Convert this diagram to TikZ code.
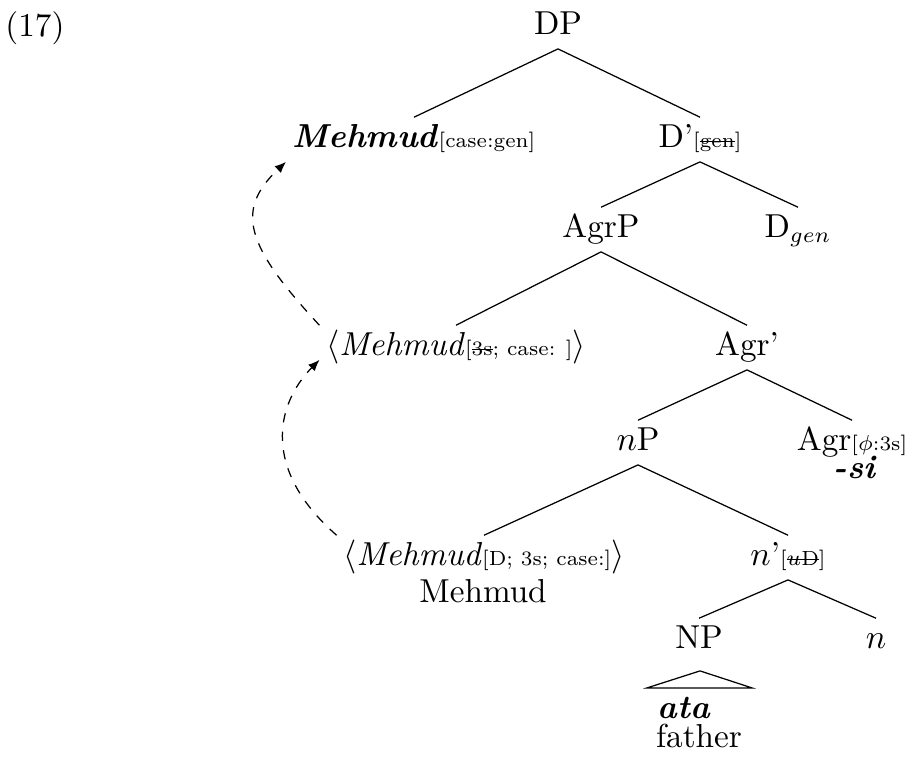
\documentclass[tikz,border=0pt]{standalone}
\usetikzlibrary{arrows.meta,calc}
\newcommand\strk[1]{{\setbox0\hbox{#1}\rlap{\rule[0.55ex]{\wd0}{0.4pt}}\box0}}
\newcommand\feat[1]{{\fontsize{6.6}{8}\selectfont #1}}
\begin{document}
\begin{tikzpicture}[x=0.3223pt,y=-0.3223pt,
  lab/.style={inner sep=2pt,text height=7.4pt,text depth=2.6pt,anchor=base,
    font=\fontsize{10.7}{13}\selectfont},
  mv/.style={dashed,-{Latex[length=3.6pt,width=3pt]}}]
\useasboundingbox (0,0) rectangle (909,758);
\node[lab] (ex) at (35,36) {(17)};
\node[lab] (dp) at (558,34) {DP};
\node[lab] (m1) at (414,147) {\textbf{\textit{Mehmud}}\feat{[case:gen]}};
\node[lab] (d1) at (700,147) {D'\feat{[\strk{gen}]}};
\node[lab] (agrp) at (601,237) {AgrP};
\node[lab] (dgen) at (798,237) {D$_{gen}$};
\node[lab] (m2) at (456,355) {$\langle$\textit{Mehmud}\feat{[\strk{3s}; case: ]}$\rangle$};
\node[lab] (agr1) at (747,355) {Agr'};
\node[lab] (np) at (638,450) {$n$P};
\node[lab] (agr) at (852,450) {Agr\feat{[$\phi$:3s]}};
\node[lab] (si) at (855,478) {\textbf{\textit{-si}}};
\node[lab] (m3) at (484,565) {$\langle$\textit{Mehmud}\feat{[D; 3s; case:]}$\rangle$};
\node[lab] (mg) at (483,602) {Mehmud};
\node[lab] (n1) at (788,565) {$n$'\feat{[\strk{$u$D}]}};
\node[lab] (NP) at (699,648) {NP};
\node[lab] (n) at (876,648) {$n$};
\node[lab] (ata) at (684,718) {\textbf{\textit{ata}}};
\node[lab] (fa) at (699,747) {father};
\draw (dp.south) -- (m1.north);
\draw (dp.south) -- (d1.north);
\draw (d1.south) -- (agrp.north);
\draw (d1.south) -- (dgen.north);
\draw (agrp.south) -- (m2.north);
\draw (agrp.south) -- (agr1.north);
\draw (agr1.south) -- (np.north);
\draw (agr1.south) -- (agr.north);
\draw (np.south) -- (m3.north);
\draw (np.south) -- (n1.north);
\draw (n1.south) -- (NP.north);
\draw (n1.south) -- (n.north);
\draw ($(NP.south)+(1,8)$) -- ($(NP.south)+(-52,25)$) -- ($(NP.south)+(53,25)$) -- cycle;
\draw[mv] (m3.north west) .. controls (262,470) and (275,405) .. ($(m2.south west)+(0,-10)$);
\draw[mv] (m2.north west) .. controls (245,245) and (235,210) .. (m1.south west);
\end{tikzpicture}
\end{document}
